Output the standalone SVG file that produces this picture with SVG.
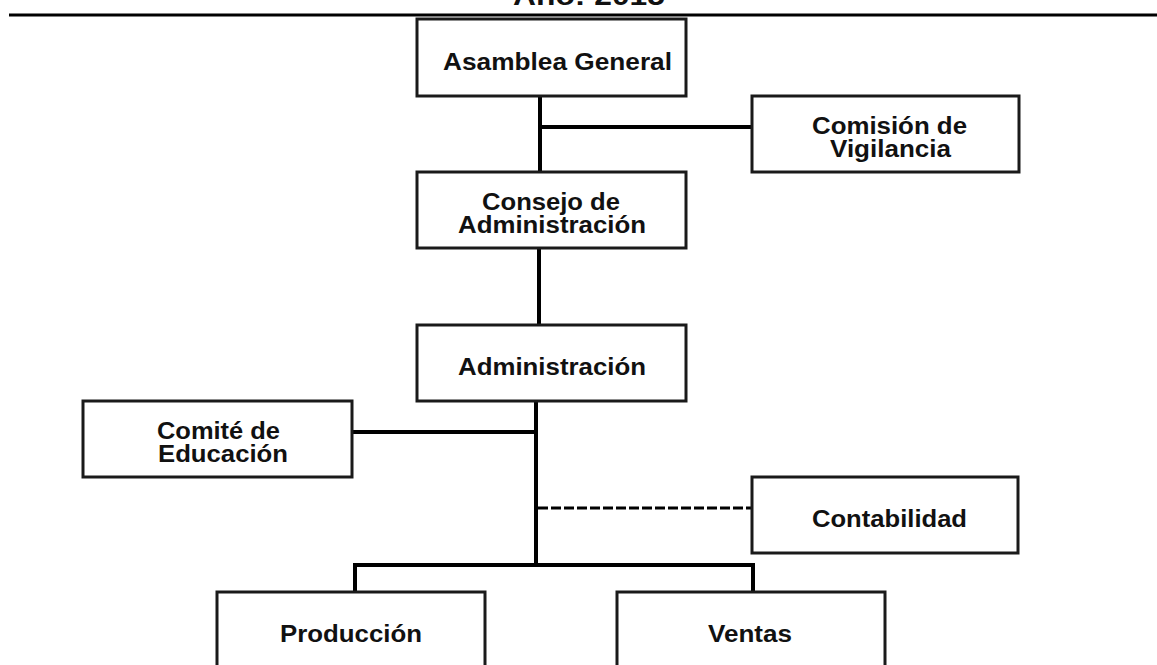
<svg xmlns="http://www.w3.org/2000/svg" width="1157" height="665" viewBox="0 0 1157 665">
<style>
.box{fill:#fff;stroke:#1a1a1a;stroke-width:3}
.t{font-family:"Liberation Sans",Arial,sans-serif;font-weight:bold;font-size:23.5px;fill:#111}
.c{stroke:#000;stroke-width:4;fill:none}
.d{stroke:#000;stroke-width:3;fill:none;stroke-dasharray:10 3}
</style>
<rect width="1157" height="665" fill="#fff"/>
<g id="header">
<text class="t" x="513" y="5" style="font-size:27px" textLength="152" lengthAdjust="spacingAndGlyphs">Año: 2015</text>
<line x1="9" y1="15" x2="1157" y2="15" stroke="#000" stroke-width="3"/>
</g>
<g id="connectors">
<line class="c" x1="540" y1="96" x2="540" y2="172"/>
<line class="c" x1="538" y1="127" x2="752" y2="127"/>
<line class="c" x1="539" y1="248" x2="539" y2="325"/>
<line class="c" x1="536" y1="401" x2="536" y2="567"/>
<line class="c" x1="350" y1="432" x2="538" y2="432"/>
<line class="d" x1="538" y1="508" x2="752" y2="508"/>
<polyline class="c" points="355,592 355,565 753,565 753,592"/>
</g>
<g id="asamblea">
<rect class="box" x="417" y="19" width="269" height="77"/>
<text class="t" x="443" y="70" textLength="229" lengthAdjust="spacingAndGlyphs">Asamblea General</text>
</g>
<g id="comision">
<rect class="box" x="752" y="96" width="267" height="76"/>
<text class="t" x="812" y="134" textLength="155" lengthAdjust="spacingAndGlyphs">Comisión de</text>
<text class="t" x="830" y="157" textLength="121" lengthAdjust="spacingAndGlyphs">Vigilancia</text>
</g>
<g id="consejo">
<rect class="box" x="417" y="172" width="269" height="76"/>
<text class="t" x="482" y="210" textLength="138" lengthAdjust="spacingAndGlyphs">Consejo de</text>
<text class="t" x="458" y="233" textLength="188" lengthAdjust="spacingAndGlyphs">Administración</text>
</g>
<g id="administracion">
<rect class="box" x="417" y="325" width="269" height="76"/>
<text class="t" x="458" y="375" textLength="188" lengthAdjust="spacingAndGlyphs">Administración</text>
</g>
<g id="comite">
<rect class="box" x="83" y="401" width="269" height="76"/>
<text class="t" x="157" y="439" textLength="123" lengthAdjust="spacingAndGlyphs">Comité de</text>
<text class="t" x="158" y="462" textLength="130" lengthAdjust="spacingAndGlyphs">Educación</text>
</g>
<g id="contabilidad">
<rect class="box" x="752" y="477" width="266" height="76"/>
<text class="t" x="812" y="527" textLength="155" lengthAdjust="spacingAndGlyphs">Contabilidad</text>
</g>
<g id="produccion">
<rect class="box" x="217" y="592" width="268" height="80"/>
<text class="t" x="280" y="642" textLength="142" lengthAdjust="spacingAndGlyphs">Producción</text>
</g>
<g id="ventas">
<rect class="box" x="617" y="592" width="268" height="80"/>
<text class="t" x="708" y="642" textLength="84" lengthAdjust="spacingAndGlyphs">Ventas</text>
</g>
</svg>
